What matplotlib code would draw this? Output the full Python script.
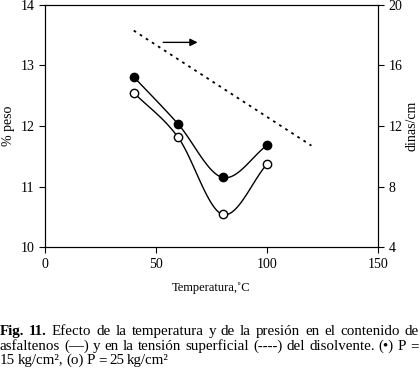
import numpy as np
import matplotlib
matplotlib.use("Agg")
import matplotlib.pyplot as plt

plt.rcParams['font.family'] = ['Liberation Serif', 'DejaVu Serif']

# data
temp = [40, 60, 80, 100]
peso_15 = [12.81, 12.03, 11.15, 11.68]   # P = 15 kg/cm2 (filled)
peso_25 = [12.55, 11.81, 10.54, 11.37]   # P = 25 kg/cm2 (open)
temp_st = [40, 60, 80, 100, 120]
tension = [18.3, 16.4, 14.5, 12.6, 10.7]  # dinas/cm (dotted)

caption = [
    [("Fig. 11.", True), ("Efecto de la temperatura y de la presión en el contenido de", False)],
    [("asfaltenos (—) y en la tensión superficial (----) del disolvente. (•) P =", False)],
    [("15 kg/cm², (o) P = 25 kg/cm²", False)],
]


def smooth(x, y, n=40):
    # catmull-rom style smoothing like a spreadsheet "smoothed line"
    x = np.asarray(x, float)
    y = np.asarray(y, float)
    px = np.concatenate([[2 * x[0] - x[1]], x, [2 * x[-1] - x[-2]]])
    py = np.concatenate([[2 * y[0] - y[1]], y, [2 * y[-1] - y[-2]]])
    xs, ys = [], []
    for i in range(1, len(px) - 2):
        t = np.linspace(0, 1, n)
        for p, out in ((px, xs), (py, ys)):
            p0, p1, p2, p3 = p[i - 1], p[i], p[i + 1], p[i + 2]
            out.append(0.5 * (2 * p1 + (-p0 + p2) * t
                              + (2 * p0 - 5 * p1 + 4 * p2 - p3) * t ** 2
                              + (-p0 + 3 * p1 - 3 * p2 + p3) * t ** 3))
    return np.concatenate(xs), np.concatenate(ys)


fig = plt.figure(figsize=(4.2, 3.71), dpi=100)
ax = fig.add_axes([0.107, 0.334, 0.793, 0.653])

sx, sy = smooth(temp, peso_15)
ax.plot(sx, sy, color='black', lw=1.0)
ax.plot(temp, peso_15, 'o', color='black', ms=6)
sx, sy = smooth(temp, peso_25)
ax.plot(sx, sy, color='black', lw=1.0)
ax.plot(temp, peso_25, 'o', mfc='white', mec='black', mew=1.0, ms=6)

ax.annotate('', xy=(70, 13.38), xytext=(52, 13.38),
            arrowprops=dict(arrowstyle='-|>', color='black', lw=1.0,
                            mutation_scale=11))

ax.set_xlim(0, 150)
ax.set_ylim(10, 14)
ax.set_xticks([0, 50, 100, 150])
ax.set_yticks([10, 11, 12, 13, 14])
ax.tick_params(direction='out', length=4, labelsize=10, width=0.8)
ax.set_ylabel('% peso', fontsize=10, labelpad=4)
ax.set_xlabel('Temperatura,˚C', fontsize=9, labelpad=8)

ax2 = ax.twinx()
ax2.plot(temp_st, tension, color='black', ls=(0, (1.5, 2.5)), lw=1.3)
ax2.set_ylim(4, 20)
ax2.set_yticks([4, 8, 12, 16, 20])
ax2.tick_params(direction='out', length=4, labelsize=10, width=0.8)
ax2.set_ylabel('dinas/cm', fontsize=10, labelpad=2)

for a in (ax, ax2):
    for s in a.spines.values():
        s.set_linewidth(0.8)

# justified caption: draw words one by one
fig.canvas.draw()
renderer = fig.canvas.get_renderer()
W = fig.bbox.width
baselines = [0.097, 0.057, 0.019]
for li, (segs, yb) in enumerate(zip(caption, baselines)):
    words = []
    for txt, bold in segs:
        for w in txt.split(' '):
            words.append((w, bold))
    arts = [fig.text(0, yb, w, fontsize=10.8, va='baseline',
                     fontweight='bold' if b else 'normal') for w, b in words]
    widths = [a.get_window_extent(renderer).width for a in arts]
    if li < len(caption) - 1:
        gap = max(2.0, (W - 1 - sum(widths)) / (len(words) - 1))
    else:
        gap = 2.8
    x = 0.0
    for a, w in zip(arts, widths):
        a.set_x(x / W)
        x += w + gap

fig.savefig('out.png', dpi=100)
